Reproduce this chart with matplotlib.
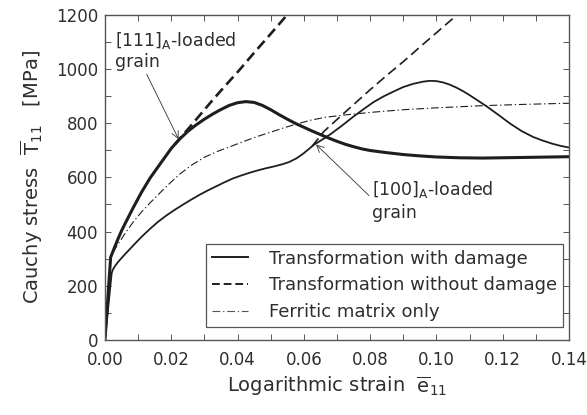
import numpy as np
import matplotlib
matplotlib.use("Agg")
import matplotlib.pyplot as plt
from matplotlib.ticker import MultipleLocator, FixedLocator

plt.rcParams['font.family'] = ['DejaVu Sans']
plt.rcParams['mathtext.fontset'] = 'dejavusans'

# [111]_A-loaded grain, with damage
e111_dmg = [0, 0.0017, 0.0022, 0.003, 0.004, 0.005, 0.0065, 0.0085, 0.011, 0.0136, 0.0165,
            0.02, 0.0225, 0.025, 0.0275, 0.03, 0.0325, 0.035, 0.0375, 0.04, 0.0425,
            0.045, 0.0475, 0.05, 0.0525, 0.055, 0.0575, 0.06, 0.0625, 0.065, 0.0675,
            0.07, 0.0725, 0.075, 0.0775, 0.08, 0.085, 0.09, 0.095, 0.1, 0.107, 0.114,
            0.125, 0.14]
s111_dmg = [0, 305, 320, 345, 375, 403, 440, 488, 545, 598, 648,
            708, 742, 771, 795, 816, 835, 852, 867, 877, 881,
            878, 867, 851, 833, 816, 800, 786, 772, 759, 746,
            734, 723, 714, 706, 700, 692, 685, 680, 676, 673, 672,
            674, 677]

# [111]_A-loaded grain, without damage
e111_nodmg = [0.021, 0.023, 0.0251, 0.028, 0.032, 0.036, 0.0402, 0.045, 0.05, 0.0548, 0.056]
s111_nodmg = [722, 750, 780, 822, 880, 936, 993, 1062, 1132, 1200, 1217]

# [100]_A-loaded grain, with damage
e100_dmg = [0, 0.002, 0.0023, 0.003, 0.004, 0.005, 0.0065, 0.0085, 0.011, 0.0136, 0.016,
            0.0186, 0.021, 0.0236, 0.026, 0.0287, 0.031, 0.0335, 0.036, 0.0385, 0.041,
            0.0435, 0.046, 0.0485, 0.051, 0.0535, 0.0555, 0.0578, 0.06, 0.0629, 0.0655,
            0.068, 0.0715, 0.0749, 0.078, 0.081, 0.084, 0.087, 0.09, 0.093, 0.096,
            0.098, 0.1, 0.102, 0.104, 0.106, 0.108, 0.11, 0.112, 0.1152, 0.1187,
            0.1222, 0.1257, 0.1292, 0.132, 0.135, 0.1375, 0.14]
s100_dmg = [0, 245, 257, 272, 288, 302, 322, 348, 380, 410, 436,
            460, 480, 500, 518, 537, 552, 567, 582, 596, 607,
            617, 626, 634, 641, 649, 657, 671, 690, 720, 740,
            760, 792, 825, 853, 879, 900, 918, 935, 947, 955,
            958, 957, 952, 944, 933, 920, 905, 889, 863, 832,
            800, 772, 750, 737, 725, 717, 711]

# [100]_A-loaded grain, without damage
e100_nodmg = [0.0625, 0.066, 0.0709, 0.075, 0.08, 0.085, 0.09, 0.095, 0.1, 0.106, 0.107]
s100_nodmg = [716, 770, 825, 870, 925, 978, 1029, 1083, 1136, 1200, 1211]

# ferritic matrix only
e_fer = [0, 0.0017, 0.0025, 0.004, 0.006, 0.0085, 0.011, 0.0136, 0.0165, 0.0195, 0.0225,
         0.026, 0.03, 0.034, 0.0377, 0.0422, 0.046, 0.05, 0.054, 0.0578, 0.062,
         0.0665, 0.0719, 0.08, 0.09, 0.1, 0.114, 0.127, 0.14]
s_fer = [0, 300, 325, 355, 392, 435, 472, 506, 542, 578, 612,
         645, 675, 697, 714, 735, 752, 768, 784, 798, 812,
         823, 831, 841, 851, 858, 866, 871, 875]

lc = '#1e1e1e'
tc = '#2e2e2e'

fig = plt.figure(figsize=(5.87, 4.15), dpi=100)
ax = fig.add_axes([0.1789, 0.1819, 0.7904, 0.7808])

dashdot = (0, (7, 2.5, 1.2, 2.5))
ax.plot(e_fer, s_fer, color=lc, lw=0.8, ls=dashdot)
ax.plot(e100_nodmg, s100_nodmg, color=lc, lw=1.2, ls=(0, (6, 3)))
ax.plot(e111_nodmg, s111_nodmg, color=lc, lw=1.9, ls=(0, (4, 2)))
ax.plot(e100_dmg, s100_dmg, color=lc, lw=1.3)
ax.plot(e111_dmg, s111_dmg, color=lc, lw=2.2)

# legend handles
h1, = ax.plot([], [], color=lc, lw=1.4)
h2, = ax.plot([], [], color=lc, lw=1.4, ls=(0, (4, 2)))
h3, = ax.plot([], [], color='#555555', lw=0.8, ls=dashdot)
leg = ax.legend([h1, h2, h3],
                ['Transformation with damage', 'Transformation without damage',
                 'Ferritic matrix only'],
                loc='lower right', bbox_to_anchor=(0.987, 0.04), fontsize=13,
                fancybox=False, framealpha=1, edgecolor='#555555',
                handlelength=2.0, handletextpad=1.2, borderpad=0.3,
                borderaxespad=0, labelspacing=0.48, labelcolor=tc)
leg.get_frame().set_linewidth(0.9)

ax.annotate('[111]$_\\mathrm{A}$-loaded\ngrain', xy=(0.0222, 742), xytext=(0.003, 1145),
            fontsize=12.5, color=tc, va='top', ha='left', linespacing=1.15,
            arrowprops=dict(arrowstyle='->', color='#333333', lw=0.6,
                            shrinkA=0, shrinkB=0, relpos=(0.25, 0.0)))
ax.annotate('[100]$_\\mathrm{A}$-loaded\ngrain', xy=(0.0637, 722), xytext=(0.0805, 595),
            fontsize=12.5, color=tc, va='top', ha='left', linespacing=1.3,
            arrowprops=dict(arrowstyle='->', color='#333333', lw=0.6,
                            shrinkA=0, shrinkB=0, relpos=(0.0, 0.55)))

ax.set_xlim(0, 0.14)
ax.set_ylim(0, 1200)
ax.xaxis.set_major_locator(FixedLocator(np.arange(0, 0.141, 0.02)))
ax.xaxis.set_minor_locator(MultipleLocator(0.01))
ax.yaxis.set_major_locator(MultipleLocator(200))
ax.yaxis.set_minor_locator(MultipleLocator(100))
ax.set_xticklabels(['%.2f' % v for v in np.arange(0, 0.141, 0.02)])
ax.tick_params(which='both', direction='in', top=True, right=True, length=4,
               width=0.7, color='#555555', labelsize=12, labelcolor=tc)
ax.tick_params(axis='x', pad=8)
ax.tick_params(axis='y', pad=5)

for sp in ax.spines.values():
    sp.set_color('#555555')
    sp.set_linewidth(1.0)

ax.set_xlabel('Logarithmic strain  $\\overline{\\mathrm{e}}_{11}$', fontsize=14, color=tc, labelpad=4)
ax.set_ylabel('Cauchy stress  $\\overline{\\mathrm{T}}_{11}$   [MPa]', fontsize=14, color=tc, labelpad=8)

fig.savefig('out.png', dpi=100)
